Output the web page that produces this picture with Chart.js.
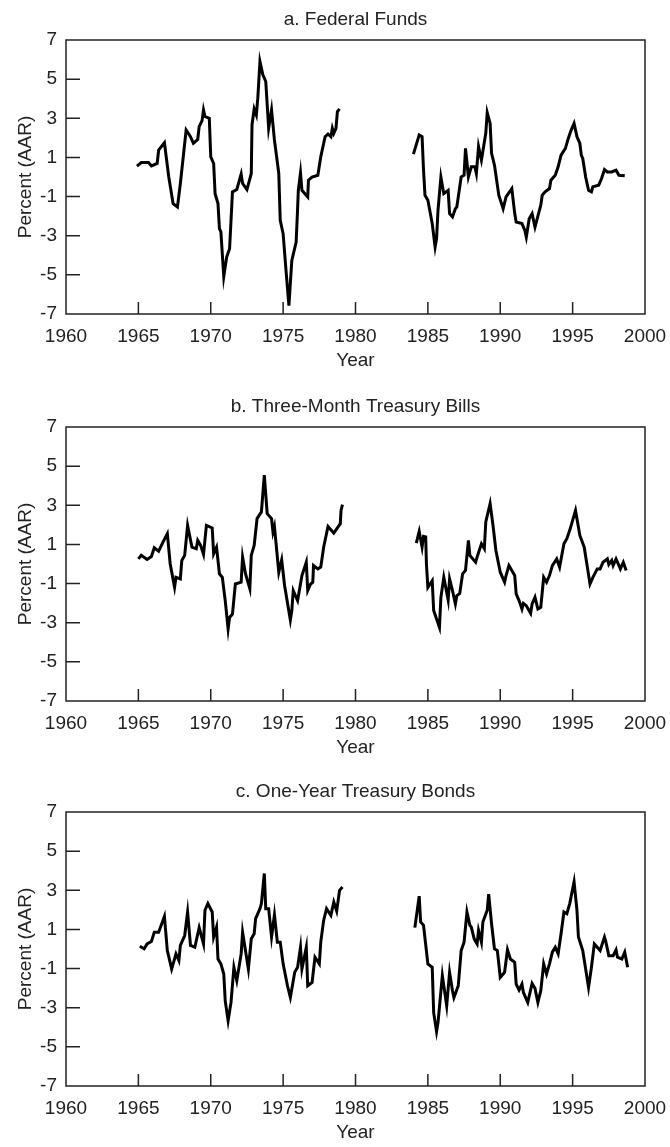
<!DOCTYPE html>
<html>
<head>
<meta charset="utf-8">
<script src="https://cdn.jsdelivr.net/npm/chart.js@4.4.1/dist/chart.umd.min.js"></script>
<style>
  body { margin: 0; background: #fff; width: 670px; height: 1147px; overflow: hidden; position: relative; }
  canvas { position: absolute; left: 0; }
</style>
</head>
<body>
<canvas id="chart-a" width="670" height="387" style="top:0"></canvas>
<canvas id="chart-b" width="670" height="387" style="top:387px"></canvas>
<canvas id="chart-c" width="670" height="378" style="top:772px"></canvas>
<script>
// a. Federal Funds
const fedYears1 = [1964.9,1965.2,1965.7,1965.9,1966.3,1966.4,1966.8,1967.1,1967.4,1967.7,1967.9,1968.3,1968.6,1968.8,1969.1,1969.2,1969.4,1969.5,1969.6,1969.9,1970.0,1970.2,1970.3,1970.5,1970.6,1970.7,1970.9,1971.1,1971.3,1971.5,1971.8,1972.1,1972.2,1972.5,1972.8,1972.85,1973.0,1973.15,1973.25,1973.4,1973.6,1973.8,1974.0,1974.2,1974.4,1974.7,1974.8,1975.0,1975.2,1975.4,1975.6,1975.9,1976.0,1976.05,1976.2,1976.3,1976.7,1976.75,1977.0,1977.4,1977.6,1977.9,1978.1,1978.3,1978.4,1978.5,1978.65,1978.75,1978.9];
const fedValues1 = [0.56,0.74,0.74,0.57,0.69,1.38,1.75,0.0,-1.36,-1.53,-0.33,2.4,2.06,1.72,1.92,2.57,2.88,3.43,3.09,3.0,1.03,0.69,-0.85,-1.36,-2.64,-2.8,-5.09,-4.09,-3.67,-0.76,-0.64,0.15,-0.33,-0.64,0.18,2.66,3.48,3.17,4.03,5.9,5.22,4.88,2.49,3.43,1.89,0.18,-2.21,-2.9,-4.78,-6.57,-4.26,-3.32,-1.62,-0.68,0.21,-0.68,-1.02,-0.16,0.0,0.09,1.03,2.06,2.2,2.06,2.49,2.23,2.49,3.34,3.48];
const fedYears2 = [1984.0,1984.1,1984.4,1984.6,1984.7,1984.8,1985.0,1985.3,1985.5,1985.6,1985.7,1985.9,1986.1,1986.4,1986.5,1986.7,1986.9,1987.0,1987.3,1987.5,1987.6,1987.8,1988.0,1988.25,1988.35,1988.5,1988.7,1989.0,1989.1,1989.3,1989.4,1989.6,1989.9,1990.2,1990.4,1990.8,1991.0,1991.1,1991.5,1991.7,1991.8,1992.0,1992.2,1992.4,1992.8,1992.9,1993.1,1993.4,1993.5,1993.8,1994.0,1994.2,1994.5,1994.7,1994.9,1995.1,1995.3,1995.5,1995.6,1995.7,1995.9,1996.1,1996.3,1996.4,1996.8,1997.0,1997.2,1997.4,1997.7,1998.0,1998.2,1998.6];
const fedValues2 = [1.17,1.41,2.15,2.06,0.35,-0.93,-1.19,-2.38,-3.58,-3.15,-1.7,0.0,-0.85,-0.68,-1.87,-2.04,-1.62,-1.53,0.0,0.09,1.46,0.0,0.52,0.52,0.18,1.55,0.86,2.23,3.29,2.74,1.21,0.61,-0.93,-1.62,-1.02,-0.59,-1.87,-2.3,-2.38,-2.73,-3.07,-2.13,-1.87,-2.56,-1.44,-0.93,-0.76,-0.59,-0.16,0.09,0.52,1.12,1.46,1.97,2.4,2.74,2.06,1.72,1.12,0.95,0.0,-0.68,-0.76,-0.5,-0.42,-0.08,0.38,0.26,0.26,0.35,0.09,0.06];

// b. Three-Month Treasury Bills
const billYears1 = [1965.0,1965.2,1965.6,1965.9,1966.1,1966.4,1966.7,1967.0,1967.2,1967.5,1967.6,1967.9,1968.0,1968.2,1968.4,1968.7,1969.0,1969.1,1969.3,1969.5,1969.7,1970.1,1970.2,1970.4,1970.6,1970.8,1971.0,1971.2,1971.3,1971.5,1971.7,1972.1,1972.2,1972.4,1972.7,1972.8,1973.0,1973.2,1973.5,1973.7,1973.9,1974.2,1974.3,1974.4,1974.7,1974.9,1975.1,1975.5,1975.6,1975.7,1976.0,1976.3,1976.6,1976.7,1976.9,1977.05,1977.1,1977.4,1977.6,1977.8,1978.1,1978.5,1978.95,1979.0,1979.1];
const billValues1 = [0.26,0.44,0.23,0.38,0.83,0.66,1.12,1.55,0.0,-1.19,-0.68,-0.76,0.18,0.44,1.97,0.86,0.78,1.21,0.95,0.49,1.97,1.84,0.52,0.86,-0.5,-0.68,-1.87,-3.32,-2.73,-2.56,-1.02,-0.93,0.35,-0.5,-1.27,0.44,0.95,2.32,2.66,4.54,2.57,2.32,1.63,1.92,-0.42,0.21,-1.1,-2.86,-2.38,-1.36,-1.87,-0.59,0.09,-1.36,-1.02,-0.93,-0.08,-0.25,-0.16,0.86,1.92,1.58,2.06,2.74,3.03];
const billYears2 = [1984.2,1984.4,1984.6,1984.7,1984.85,1984.9,1985.0,1985.3,1985.4,1985.6,1985.8,1985.9,1986.1,1986.4,1986.5,1986.7,1986.9,1987.0,1987.2,1987.4,1987.6,1987.8,1987.9,1988.3,1988.4,1988.7,1988.9,1989.0,1989.3,1989.5,1989.7,1990.0,1990.3,1990.4,1990.6,1990.8,1991.0,1991.1,1991.3,1991.5,1991.6,1991.8,1992.1,1992.2,1992.4,1992.6,1992.8,1993.0,1993.2,1993.4,1993.6,1993.9,1994.1,1994.4,1994.6,1994.8,1995.0,1995.2,1995.5,1995.8,1996.0,1996.2,1996.4,1996.7,1996.9,1997.1,1997.4,1997.5,1997.7,1997.8,1998.0,1998.3,1998.5,1998.7];
const billValues2 = [1.07,1.67,0.86,1.41,1.38,0.0,-1.19,-0.85,-2.38,-2.81,-3.24,-1.7,-0.68,-1.84,-0.76,-1.36,-2.04,-1.62,-1.5,-0.5,-0.33,1.21,0.44,0.09,0.35,1.03,0.78,2.15,3.09,1.97,0.69,-0.42,-0.93,-0.59,-0.08,-0.33,-0.59,-1.53,-1.87,-2.3,-2.01,-2.13,-2.52,-2.04,-1.7,-2.3,-2.21,-0.68,-0.93,-0.59,-0.08,0.26,-0.16,1.03,1.29,1.72,2.23,2.74,1.46,0.86,-0.08,-1.02,-0.68,-0.25,-0.25,0.09,0.26,-0.03,0.18,-0.08,0.26,-0.25,0.09,-0.33];

// c. One-Year Treasury Bonds
const bondYears1 = [1965.1,1965.4,1965.6,1965.9,1966.1,1966.4,1966.8,1967.0,1967.3,1967.6,1967.8,1967.9,1968.2,1968.4,1968.6,1968.9,1969.2,1969.5,1969.6,1969.8,1970.1,1970.2,1970.4,1970.5,1970.7,1970.9,1971.0,1971.2,1971.4,1971.6,1971.8,1972.1,1972.2,1972.6,1972.8,1973.0,1973.1,1973.4,1973.5,1973.7,1973.8,1974.0,1974.2,1974.4,1974.6,1974.8,1975.0,1975.3,1975.5,1975.8,1976.0,1976.2,1976.3,1976.6,1976.7,1977.0,1977.2,1977.5,1977.6,1977.8,1978.0,1978.3,1978.5,1978.7,1978.9,1979.1];
const bondValues1 = [0.14,0.01,0.26,0.38,0.86,0.86,1.67,-0.08,-1.02,-0.25,-0.59,0.18,0.69,1.89,0.18,0.09,1.09,0.26,1.98,2.32,1.89,0.61,1.12,-0.51,-0.76,-1.28,-2.65,-3.67,-2.73,-0.93,-1.62,-0.25,0.86,-1.02,0.52,0.78,1.55,2.06,2.32,3.86,2.06,2.06,0.61,1.75,0.35,0.35,-0.76,-1.88,-2.48,-1.19,-0.93,0.09,-1.02,0.09,-1.88,-1.71,-0.42,-0.76,0.35,1.46,2.06,1.72,2.4,1.94,3.0,3.17];
const bondYears2 = [1984.1,1984.2,1984.4,1984.5,1984.7,1985.0,1985.3,1985.4,1985.6,1985.7,1986.0,1986.3,1986.5,1986.7,1986.8,1987.1,1987.3,1987.5,1987.7,1987.9,1988.0,1988.2,1988.4,1988.5,1988.7,1988.8,1989.1,1989.2,1989.4,1989.6,1989.8,1990.0,1990.3,1990.5,1990.7,1991.0,1991.1,1991.3,1991.5,1991.6,1991.9,1992.2,1992.4,1992.6,1992.8,1993.0,1993.2,1993.4,1993.6,1993.8,1994.0,1994.2,1994.4,1994.6,1994.8,1995.1,1995.3,1995.4,1995.7,1995.9,1996.1,1996.3,1996.5,1996.9,1997.2,1997.3,1997.5,1997.8,1998.0,1998.1,1998.4,1998.6,1998.8];
const bondValues2 = [1.09,1.63,2.7,1.38,1.21,-0.76,-0.93,-3.25,-4.22,-3.76,-1.36,-2.9,-1.19,-2.13,-2.48,-1.88,-0.08,0.35,1.89,1.21,1.12,0.52,0.26,0.95,0.35,1.38,1.98,2.8,1.29,0.01,-0.08,-1.45,-1.19,-0.04,-0.51,-0.68,-1.79,-2.1,-1.79,-2.22,-2.73,-1.76,-2.01,-2.73,-2.13,-0.76,-1.28,-0.76,-0.16,0.09,-0.25,0.78,1.89,1.8,2.32,3.43,1.98,0.61,-0.08,-1.02,-1.96,-0.93,0.26,-0.08,0.61,0.35,-0.34,-0.34,-0.04,-0.42,-0.51,-0.16,-0.93];

const yearTicks = [1960, 1965, 1970, 1975, 1980, 1985, 1990, 1995, 2000];
const percentTicks = [-7, -5, -3, -1, 1, 3, 5, 7];

const textColor = '#222';
Chart.defaults.font.family = "'Liberation Sans', Arial, sans-serif";
Chart.defaults.font.size = 19;
Chart.defaults.color = textColor;

const toPoints = (xs, ys) => xs.map((x, i) => ({ x: x, y: ys[i] }));

// frame round the plot and short ticks pointing inward
const frameTicks = {
  id: 'frameTicks',
  afterDatasetsDraw(chart) {
    const { ctx, chartArea: a, scales: { x, y } } = chart;
    ctx.save();
    ctx.strokeStyle = '#222';
    ctx.lineWidth = 1.5;
    ctx.strokeRect(a.left, a.top, a.right - a.left, a.bottom - a.top);
    ctx.beginPath();
    yearTicks.slice(1, -1).forEach(v => {
      const px = x.getPixelForValue(v);
      ctx.moveTo(px, a.bottom);
      ctx.lineTo(px, a.bottom - 12);
    });
    percentTicks.slice(1, -1).forEach(v => {
      const py = y.getPixelForValue(v);
      ctx.moveTo(a.left, py);
      ctx.lineTo(a.left + 14, py);
    });
    ctx.stroke();
    ctx.restore();
  }
};

function makeChart(id, title, seg1, seg2, bottomPad) {
  const line = data => ({
    data: data,
    borderColor: '#000',
    borderWidth: 3,
    pointRadius: 0,
    tension: 0,
    fill: false
  });
  return new Chart(document.getElementById(id), {
    type: 'line',
    data: { datasets: [line(seg1), line(seg2)] },
    options: {
      responsive: false,
      animation: false,
      layout: { padding: { left: 0, right: 25, top: 0, bottom: bottomPad } },
      plugins: {
        legend: { display: false },
        tooltip: { enabled: false },
        title: {
          display: true,
          fullSize: false,
          text: title,
          font: { size: 19, weight: 'normal' },
          color: textColor,
          padding: { top: 8.6, bottom: 8.6 }
        }
      },
      scales: {
        x: {
          type: 'linear',
          min: 1960,
          max: 2000,
          afterBuildTicks: s => { s.ticks = yearTicks.map(v => ({ value: v })); },
          ticks: { padding: 11.5, callback: v => String(v), maxRotation: 0 },
          grid: { display: false, drawTicks: false },
          border: { display: false },
          title: { display: true, text: 'Year', padding: { top: 4, bottom: 4 } },
          afterFit: s => { s.height = 62.4; s.paddingLeft = 0; s.paddingRight = 0; }
        },
        y: {
          min: -7,
          max: 7,
          afterBuildTicks: s => { s.ticks = percentTicks.map(v => ({ value: v })); },
          ticks: { padding: 9 },
          grid: { display: false, drawTicks: false },
          border: { display: false },
          title: { display: true, text: 'Percent (AAR)', padding: { top: 14, bottom: 0 } },
          afterFit: s => { s.width = 66; }
        }
      }
    },
    plugins: [frameTicks]
  });
}

makeChart('chart-a', 'a. Federal Funds', toPoints(fedYears1, fedValues1), toPoints(fedYears2, fedValues2), 10.6);
makeChart('chart-b', 'b. Three-Month Treasury Bills', toPoints(billYears1, billValues1), toPoints(billYears2, billValues2), 10.6);
makeChart('chart-c', 'c. One-Year Treasury Bonds', toPoints(bondYears1, bondValues1), toPoints(bondYears2, bondValues2), 1.6);
</script>
</body>
</html>
